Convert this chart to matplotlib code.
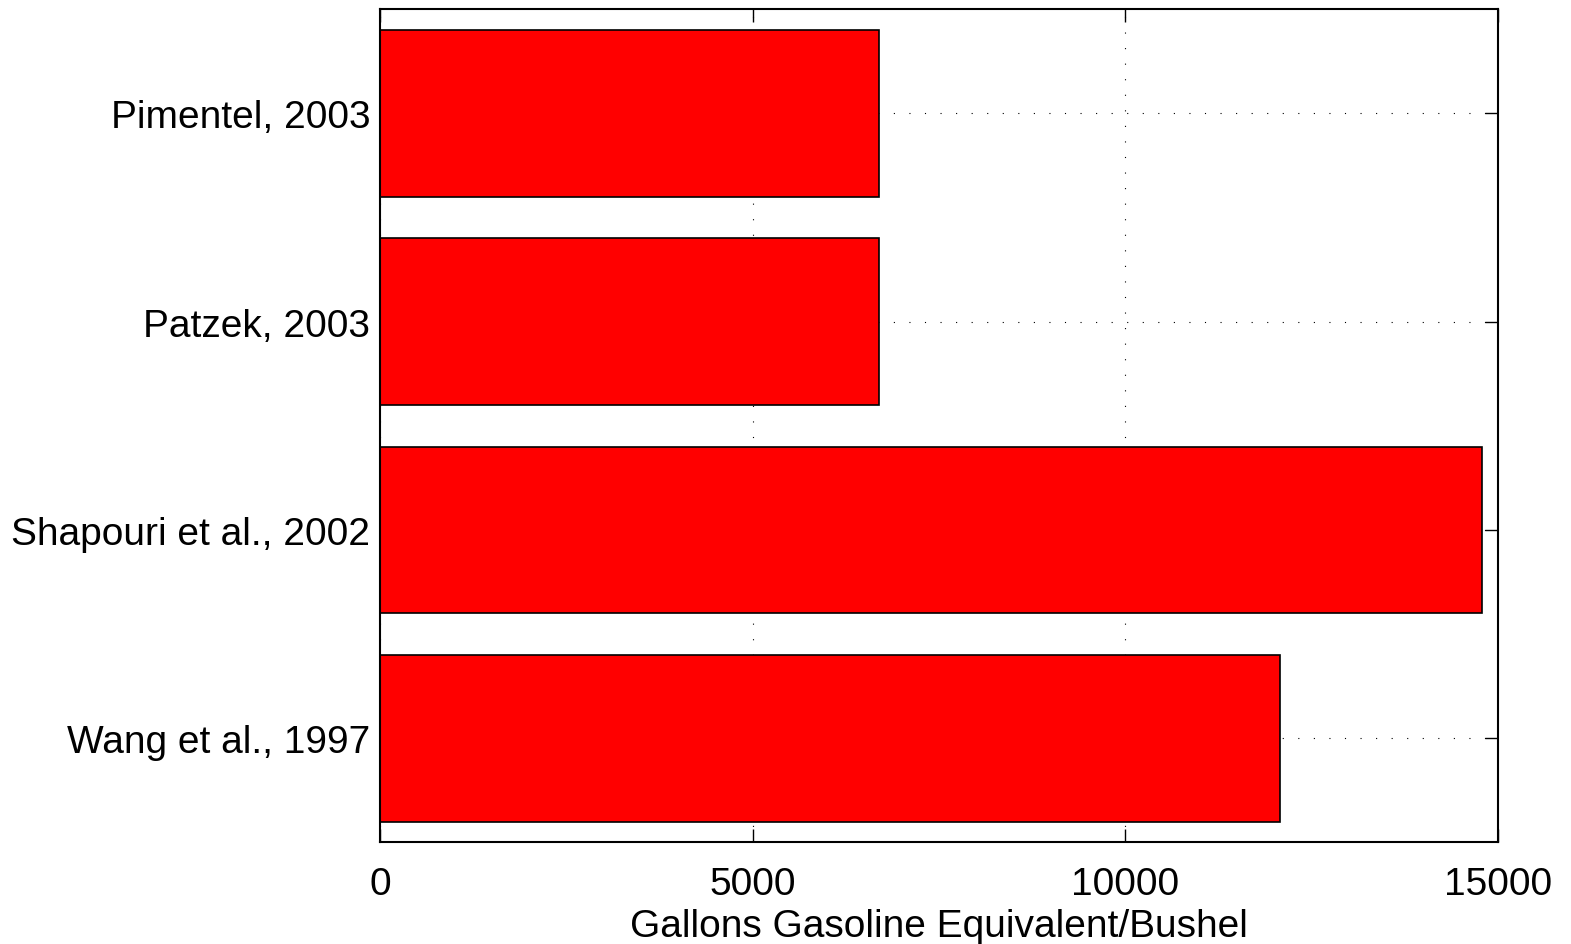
import numpy as np
import matplotlib
matplotlib.use('Agg')
import matplotlib.pyplot as plt

# data (gallons gasoline equivalent per bushel)
studies = ['Wang et al., 1997', 'Shapouri et al., 2002', 'Patzek, 2003', 'Pimentel, 2003']
values = [12080, 14780, 6700, 6700]
x_ticks = [0, 5000, 10000, 15000]

plt.rcParams['font.family'] = ['Liberation Sans', 'DejaVu Sans']

fig = plt.figure(figsize=(15.71, 9.45), dpi=100)
ax = fig.add_axes([0.2419, 0.1075, 0.9535 - 0.2419, 0.9894 - 0.1075])

pos = np.arange(1, len(studies) + 1)
ax.barh(pos, values, height=0.8, color='#ff0000', edgecolor='black', linewidth=1.2)

ax.set_xlim(0, 15000)
ax.set_ylim(0.5, len(studies) + 0.5)
ax.set_xticks(x_ticks)
ax.set_xticklabels([str(v) for v in x_ticks])
ax.set_yticks(pos)
ax.set_yticklabels(studies)

ax.set_axisbelow(True)
ax.grid(True, color='black', linestyle=(0, (1, 13)), linewidth=0.8)

ax.tick_params(direction='in', top=True, right=True, length=9.5, width=1,
               labelsize=28, colors='black')
ax.tick_params(axis='x', pad=17)
ax.tick_params(axis='y', pad=7)
for s in ax.spines.values():
    s.set_linewidth(1.5)

ax.set_xlabel('Gallons Gasoline Equivalent/Bushel', fontsize=28, labelpad=4)

fig.savefig('out.png', dpi=100)
